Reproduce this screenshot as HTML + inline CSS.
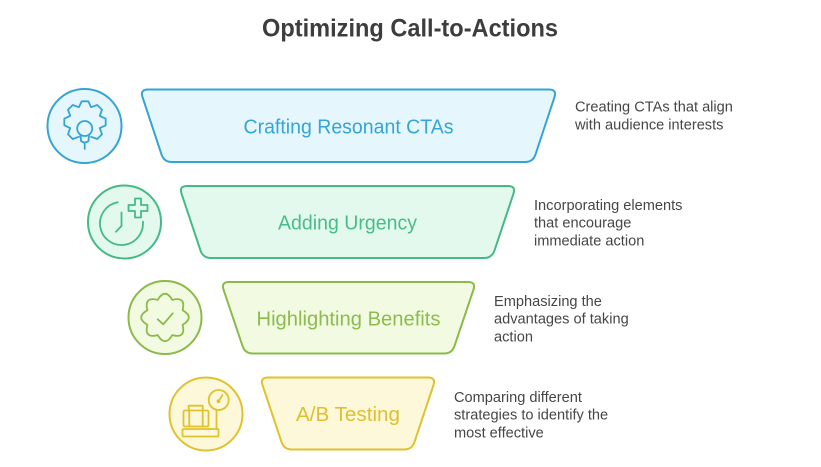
<!DOCTYPE html>
<html>
<head>
<meta charset="utf-8">
<style>
  html, body { margin:0; padding:0; background:#ffffff; }
  body { width:821px; height:467px; overflow:hidden; }
  svg { display:block; }
  text { font-family: "Liberation Sans", Arial, sans-serif; }
</style>
</head>
<body>
<svg width="821" height="467" viewBox="0 0 821 467" xmlns="http://www.w3.org/2000/svg">
  <rect width="821" height="467" fill="#ffffff"/>

  <!-- Title -->
  <text x="410" y="36.5" text-anchor="middle" font-size="25" font-weight="bold" fill="#3d3d3d" textLength="296" lengthAdjust="spacingAndGlyphs">Optimizing Call-to-Actions</text>

  <!-- Shape 1 (blue) -->
  <path d="M148,89.5 H549 Q557,89.5 554.5,97.1 L535.5,154.4 Q533,162 525,162 H172 Q164,162 161.5,154.4 L142.5,97.1 Q140,89.5 148,89.5 Z" fill="#e5f7fd" stroke="#35a4d4" stroke-width="2"/>
  <text x="348.5" y="133.5" text-anchor="middle" font-size="20" fill="#35a5d6" textLength="210" lengthAdjust="spacingAndGlyphs">Crafting Resonant CTAs</text>

  <!-- Shape 2 (green) -->
  <path d="M187,186 H508 Q516,186 513.5,193.6 L494.5,250.4 Q492,258 484,258 H211 Q203,258 200.5,250.4 L181.5,193.6 Q179,186 187,186 Z" fill="#e3f9ee" stroke="#45ba85" stroke-width="2"/>
  <text x="347.5" y="229.5" text-anchor="middle" font-size="20" fill="#48bd87" textLength="139" lengthAdjust="spacingAndGlyphs">Adding Urgency</text>

  <!-- Shape 3 (lime) -->
  <path d="M229,282 H468 Q476,282 473.5,289.6 L454.5,345.9 Q452,353.5 444,353.5 H253 Q245,353.5 242.5,345.9 L223.5,289.6 Q221,282 229,282 Z" fill="#f2fbe1" stroke="#8bba4b" stroke-width="2"/>
  <text x="348.5" y="325.5" text-anchor="middle" font-size="20" fill="#8cbb4f" textLength="184" lengthAdjust="spacingAndGlyphs">Highlighting Benefits</text>

  <!-- Shape 4 (yellow) -->
  <path d="M268,377.5 H428 Q436,377.5 433.5,385.1 L414.5,441.9 Q412,449.5 404,449.5 H292 Q284,449.5 281.5,441.9 L262.5,385.1 Q260,377.5 268,377.5 Z" fill="#fdf8da" stroke="#e0c12e" stroke-width="2"/>
  <text x="348" y="421" text-anchor="middle" font-size="20" fill="#dfbf2e" textLength="104" lengthAdjust="spacingAndGlyphs">A/B Testing</text>

  <!-- Icon 1: gear + bulb -->
  <circle cx="84.5" cy="126" r="37" fill="#e5f7fd" stroke="#35a4d4" stroke-width="2"/>
  <g fill="none" stroke="#35a4d4" stroke-width="1.8" stroke-linejoin="round" stroke-linecap="round">
    <polyline points="91.1,136.8 97.3,139 102,134.3 99.8,128.1 105.7,125.3 105.7,118.7 99.8,115.9 102,109.7 97.3,105 91.1,107.2 88.3,101.3 81.7,101.3 78.9,107.2 72.7,105 68,109.7 70.2,115.9 64.3,118.7 64.3,125.3 70.2,128.1 68,134.3 72.7,139 78.9,136.8"/>
    <circle cx="84.7" cy="128.5" r="7.5"/>
    <path d="M80.5,135 L81,141 Q84.7,144 88.5,141 L89,135"/>
    <line x1="84.7" y1="143" x2="84.7" y2="149"/>
  </g>

  <!-- Icon 2: stopwatch + plus -->
  <circle cx="124.5" cy="222" r="36.5" fill="#e3f9ee" stroke="#45ba85" stroke-width="2"/>
  <g fill="none" stroke="#45ba85" stroke-width="1.8" stroke-linejoin="round" stroke-linecap="round">
    <path d="M117.8,202.3 A21.5,21.5 0 1 0 142.9,221.6"/>
    <polyline points="121.5,212.5 121.5,226 116,231.7"/>
    <path d="M135,198.5 h6 v6.5 h6.5 v6 h-6.5 v6.5 h-6 v-6.5 h-6.5 v-6 h6.5 z"/>
  </g>

  <!-- Icon 3: badge + check -->
  <circle cx="165" cy="317.5" r="36.5" fill="#f2fbe1" stroke="#8bba4b" stroke-width="2"/>
  <g fill="none" stroke="#8bba4b" stroke-width="1.8" stroke-linejoin="round" stroke-linecap="round">
    <path d="M157.7,299.9 Q165,287.5 172.3,299.9 Q186.2,296.3 182.6,310.2 Q195,317.5 182.6,324.8 Q186.2,338.7 172.3,335.1 Q165,347.5 157.7,335.1 Q143.8,338.7 147.4,324.8 Q135,317.5 147.4,310.2 Q143.8,296.3 157.7,299.9 Z"/>
    <polyline points="157.7,319.3 163.3,324.3 172.7,313.3"/>
  </g>

  <!-- Icon 4: scale + bag -->
  <circle cx="206" cy="414" r="36.5" fill="#fdf8da" stroke="#e0c12e" stroke-width="2"/>
  <g fill="none" stroke="#e0c12e" stroke-width="1.8" stroke-linejoin="round" stroke-linecap="round">
    <circle cx="218.7" cy="400" r="10"/>
    <line x1="218.7" y1="401" x2="222.5" y2="395"/>
    <circle cx="218.5" cy="401.2" r="1" fill="#e0c12e"/>
    <path d="M216.5,409.8 V429"/>
    <rect x="182.5" y="429" width="36" height="7.5" rx="1"/>
    <rect x="183.5" y="410.5" width="25" height="16" rx="1.5"/>
    <path d="M188.7,410.5 V405.7 H202.7 V410.5"/>
    <line x1="189.3" y1="410.5" x2="189.3" y2="426.5"/>
    <line x1="202.7" y1="410.5" x2="202.7" y2="426.5"/>
  </g>

  <!-- Descriptions -->
  <g font-size="14.6" fill="#464646">
    <text x="575" y="111.5">Creating CTAs that align</text>
    <text x="575" y="129.3">with audience interests</text>

    <text x="534" y="209.8">Incorporating elements</text>
    <text x="534" y="227.6">that encourage</text>
    <text x="534" y="245.4">immediate action</text>

    <text x="494" y="305.8">Emphasizing the</text>
    <text x="494" y="323.6">advantages of taking</text>
    <text x="494" y="341.4">action</text>

    <text x="454" y="401.8">Comparing different</text>
    <text x="454" y="419.6">strategies to identify the</text>
    <text x="454" y="437.4">most effective</text>
  </g>
</svg>
</body>
</html>
